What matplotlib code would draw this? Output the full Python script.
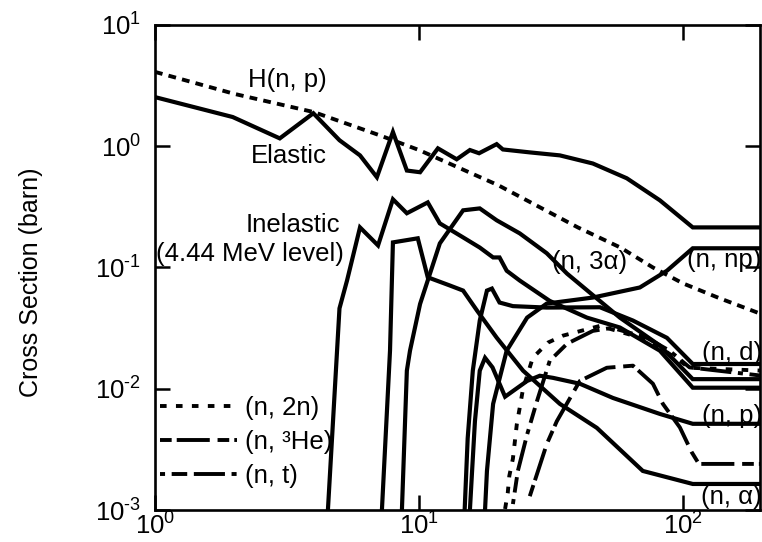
import math
import matplotlib
matplotlib.use("Agg")
import matplotlib.pyplot as plt
from matplotlib.ticker import FixedLocator, FuncFormatter, NullLocator

plt.rcParams['font.family'] = ['Liberation Sans', 'DejaVu Sans']
plt.rcParams['mathtext.fontset'] = 'custom'
plt.rcParams['mathtext.rm'] = 'Liberation Sans'
plt.rcParams['axes.unicode_minus'] = False

# neutron energy (MeV) and cross sections (barn) for each channel
e_hnp = [1, 2, 4, 7.1, 10, 20, 40, 58, 77, 100, 137, 200]
xs_hnp = [4.1, 2.7, 1.91, 1.23, 0.93, 0.476, 0.214, 0.146, 0.1, 0.074, 0.056, 0.041]

e_elastic = [1, 1.97, 2.97, 3.98, 5.0, 5.98, 6.93, 7.97, 9.0, 10.1, 11.8, 13.9, 15.6,
             16.9, 19.7, 20.8, 26.2, 34.2, 45.6, 61.3, 81.8, 109, 200]
xs_elastic = [2.54, 1.74, 1.16, 1.87, 1.12, 0.84, 0.555, 1.31, 0.63, 0.61, 0.96, 0.78, 0.93,
              0.875, 1.04, 0.94, 0.89, 0.84, 0.72, 0.544, 0.358, 0.214, 0.214]

e_inel = [4.52, 5.0, 5.34, 5.98, 7.0, 7.97, 9.0, 10.8, 12.0, 14.7, 17.0, 19.1, 20.2,
          21.5, 24.1, 31.3, 43.3, 57.7, 81.8, 109, 200]
xs_inel = [0.001, 0.046, 0.078, 0.214, 0.152, 0.365, 0.28, 0.344, 0.231, 0.177, 0.146, 0.121, 0.121,
           0.094, 0.078, 0.053, 0.0386, 0.032, 0.0206, 0.0102, 0.0102]

e_n3a = [8.62, 9.0, 9.25, 10.1, 12.0, 14.7, 17.0, 19.7, 24.1, 30.5, 36.4, 57.7, 81.8, 109, 200]
xs_n3a = [0.001, 0.0141, 0.0206, 0.05, 0.158, 0.296, 0.307, 0.245, 0.191, 0.131, 0.089,
          0.0386, 0.0227, 0.012, 0.012]

e_na = [7.24, 7.77, 7.97, 9.9, 10.8, 13.1, 14.7, 16.6, 19.7, 24.8, 34.2, 47.2, 70.5, 109, 200]
xs_na = [0.001, 0.0206, 0.161, 0.174, 0.083, 0.071, 0.0645, 0.0441, 0.0264, 0.0141, 0.0075,
         0.00476, 0.0021, 0.00164, 0.00164]

e_nd = [14.9, 15.3, 16.0, 17.0, 18.1, 18.9, 20.2, 22.7, 30.5, 48.5, 64.7, 87, 109, 200]
xs_nd = [0.001, 0.0039, 0.0141, 0.0365, 0.0645, 0.067, 0.0514, 0.048, 0.0467, 0.047, 0.0365,
         0.0263, 0.016, 0.016]

e_np = [15.6, 15.9, 16.3, 17.0, 17.8, 19.0, 21.2, 25.7, 28.7, 32.2, 40.7, 54.3, 81.8, 109, 200]
xs_np = [0.001, 0.0021, 0.0054, 0.0141, 0.018, 0.015, 0.0086, 0.0116, 0.0128, 0.0123, 0.011,
         0.0084, 0.0062, 0.00514, 0.00514]

e_nnp = [17.8, 18.1, 19.1, 21.5, 25.7, 30.5, 45.6, 68.7, 87, 109, 200]
xs_nnp = [0.001, 0.0021, 0.0075, 0.0206, 0.0386, 0.0504, 0.0565, 0.0684, 0.094, 0.144, 0.144]

e_n2n = [21.2, 21.7, 22.0, 22.7, 23.5, 24.1, 24.8, 27.0, 30.8, 35.1, 48.5, 75, 106, 200]
xs_n2n = [0.00102, 0.00138, 0.00191, 0.00265, 0.00515, 0.007, 0.01, 0.018, 0.024, 0.0274,
          0.033, 0.025, 0.0149, 0.0141]

e_n3he = [26.3, 30.5, 33.3, 40.7, 51.5, 64.7, 77, 84, 97.4, 108, 115, 200]
xs_n3he = [0.0013, 0.0035, 0.0054, 0.0116, 0.0149, 0.0155, 0.011, 0.0075, 0.0048, 0.003,
           0.0024, 0.0024]

e_nt = [22.7, 23.7, 25.7, 28.0, 31.3, 36.4, 45.6, 54, 73, 89, 106, 200]
xs_nt = [0.00112, 0.0021, 0.0042, 0.0079, 0.017, 0.0235, 0.03, 0.0318, 0.0263, 0.0206,
         0.015, 0.0128]

x_ticks = [1, 10, 100]
y_ticks = [1e-3, 1e-2, 1e-1, 1, 10]


def decade_label(v, pos):
    # plain hyphen in the exponent instead of a math minus
    exp = int(round(math.log10(v)))
    return r'$\mathdefault{10^{\text{%d}}}$' % exp


fig = plt.figure(figsize=(7.62, 5.42), dpi=100)
ax = fig.add_axes([0.2034, 0.059, 0.794, 0.895])

lw = 3.0
ax.plot(e_hnp, xs_hnp, color='black', lw=2.8, linestyle=(0, (2.0, 1.6)))
for e, xs in [(e_elastic, xs_elastic), (e_inel, xs_inel), (e_n3a, xs_n3a), (e_na, xs_na),
              (e_nd, xs_nd), (e_np, xs_np), (e_nnp, xs_nnp)]:
    ax.plot(e, xs, color='black', lw=lw, solid_joinstyle='miter')

ax.plot(e_n2n, xs_n2n, color='black', lw=2.8, linestyle=(0, (1.7, 2.4)), label='(n, 2n)')
ax.plot(e_n3he, xs_n3he, color='black', lw=2.8, linestyle=(0, (3.0, 1.3, 8.5, 2.0)),
        label='(n, ³He)')
ax.plot(e_nt, xs_nt, color='black', lw=2.8, linestyle=(0, (1.3, 1.7, 4, 1.7, 8, 1.7)),
        label='(n, t)')

ax.set_xscale('log')
ax.set_yscale('log')
ax.set_xlim(1, 196)
ax.set_ylim(1e-3, 10)
ax.xaxis.set_major_locator(FixedLocator(x_ticks))
ax.yaxis.set_major_locator(FixedLocator(y_ticks))
ax.xaxis.set_minor_locator(NullLocator())
ax.yaxis.set_minor_locator(NullLocator())
ax.xaxis.set_major_formatter(FuncFormatter(decade_label))
ax.yaxis.set_major_formatter(FuncFormatter(decade_label))

ax.tick_params(which='major', direction='in', top=True, right=True,
               length=11, width=1.8, labelsize=18.5)
ax.tick_params(axis='y', pad=10)
ax.tick_params(axis='x', pad=2)
for side in ax.spines.values():
    side.set_linewidth(1.9)

ax.set_ylabel('Cross Section (barn)', fontsize=18)
ax.yaxis.set_label_coords(-0.185, 0.47)

fs = 18.5
ax.text(2.25, 3.5, 'H(n, p)', fontsize=fs, va='center')
ax.text(2.3, 0.83, 'Elastic', fontsize=fs, va='center')
ax.text(2.2, 0.222, 'Inelastic', fontsize=fs, va='center')
ax.text(1.01, 0.13, '(4.44 MeV level)', fontsize=fs, va='center')
ax.text(32.0, 0.11, '(n, 3α)', fontsize=fs, va='center')
ax.text(104, 0.116, '(n, np)', fontsize=fs, va='center')
ax.text(118, 0.0199, '(n, d)', fontsize=fs, va='center')
ax.text(118, 0.006, '(n, p)', fontsize=fs, va='center')
ax.text(117, 0.00128, '(n, α)', fontsize=fs, va='center')

ax.legend(loc='lower left', bbox_to_anchor=(0.008, 0.045), frameon=False,
          fontsize=fs, handlelength=3.0, handletextpad=0.3, labelspacing=0.4,
          borderpad=0, borderaxespad=0)

fig.savefig('out.png', dpi=100)
